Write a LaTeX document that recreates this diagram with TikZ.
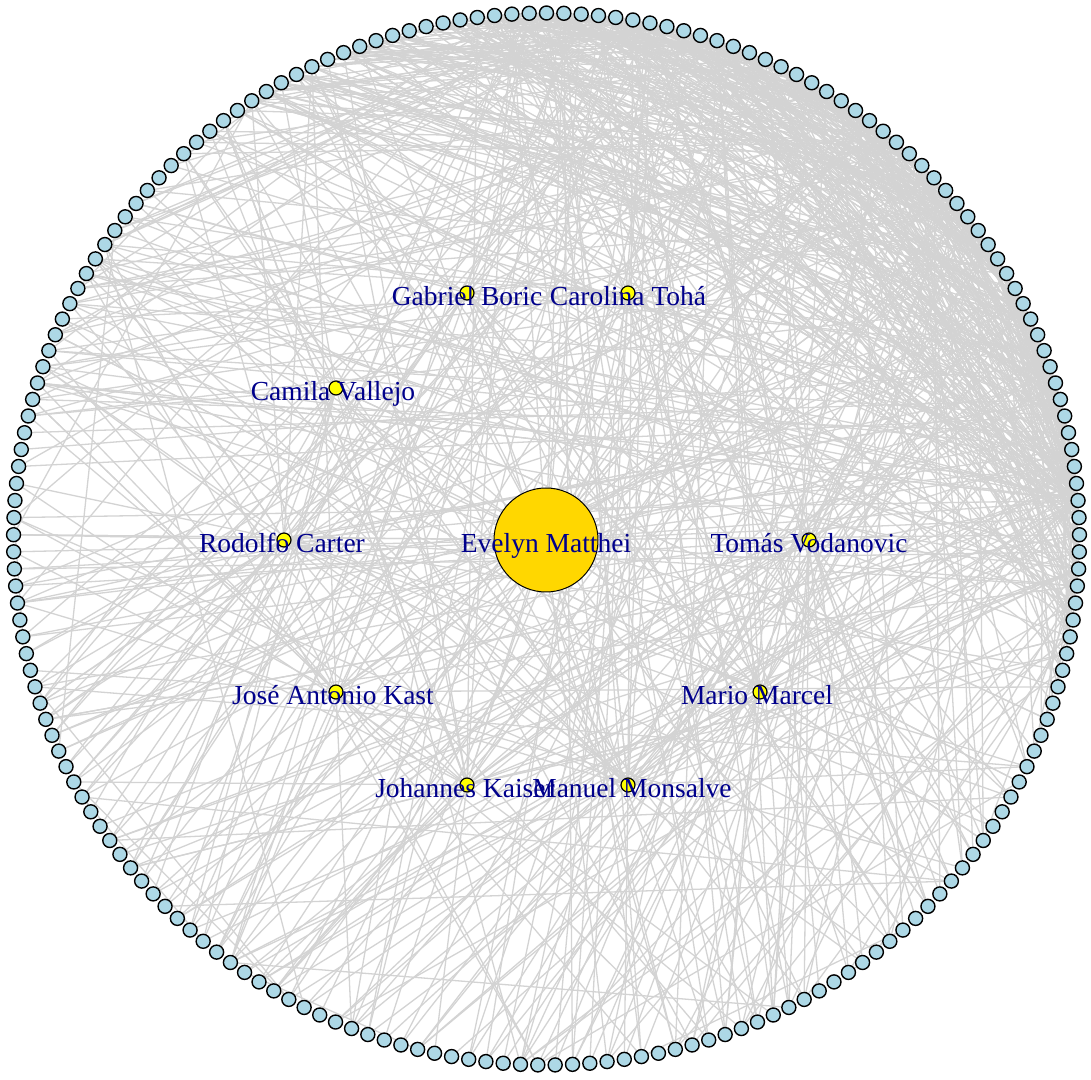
\documentclass[tikz,border=0pt]{standalone}
\usepackage{fontspec}
\setmainfont{Liberation Serif}
\usetikzlibrary{backgrounds}
\definecolor{ringblue}{HTML}{ADD8E6}
\definecolor{hubgold}{HTML}{FFD700}
\definecolor{hubyellow}{HTML}{FFFF00}
\definecolor{tiegray}{HTML}{D3D3D3}
\definecolor{namecol}{HTML}{00008B}

\begin{document}
\begin{tikzpicture}[x=1pt,y=1pt,
  member/.style={circle, draw=black, line width=1.4pt, fill=ringblue, minimum size=14pt, inner sep=0pt},
  hub/.style={circle, draw=black, line width=1.2pt, fill=hubyellow, minimum size=14pt, inner sep=0pt},
  bighub/.style={circle, draw=black, line width=1pt, fill=hubgold, minimum size=104pt, inner sep=0pt},
  hubname/.style={text=namecol, font=\fontsize{27.5}{30}\selectfont, inner sep=0pt, anchor=base},
  tie/.style={draw=tiegray, line width=1.3pt}]
\useasboundingbox (0,0) rectangle (1091,1079);

% Outer ring of members
\foreach \i in {1,...,193}{
  \pgfmathsetmacro\ang{-90+(\i-0.5)*1.865285}
  \node[member] (m\i) at ({546.5+533*cos(\ang)}, {540+526*sin(\ang)}) {};
}

% Hubs
\node[bighub] (matthei) at (546,539) {};
\node[hub] (boric) at (467,786) {};
\node[hub] (toha) at (628,786) {};
\node[hub] (vallejo) at (336,691) {};
\node[hub] (carter) at (284,539) {};
\node[hub] (vodanovic) at (809,539) {};
\node[hub] (kast) at (336,387) {};
\node[hub] (marcel) at (760,387) {};
\node[hub] (kaiser) at (467,294) {};
\node[hub] (monsalve) at (628,294) {};

% Names on top of the hubs
\node[hubname] (mattheiname) at ([yshift=-12.5pt]matthei.center) {Evelyn Matthei};
\node[hubname] (boricname) at ([yshift=-12.5pt]boric.center) {Gabriel Boric};
\node[hubname] (tohaname) at ([yshift=-12.5pt]toha.center) {Carolina Tohá};
\node[hubname] (vallejoname) at ([xshift=-3pt,yshift=-12.5pt]vallejo.center) {Camila Vallejo};
\node[hubname] (cartername) at ([xshift=-2pt,yshift=-12.5pt]carter.center) {Rodolfo Carter};
\node[hubname] (vodanovicname) at ([yshift=-12.5pt]vodanovic.center) {Tomás Vodanovic};
\node[hubname] (kastname) at ([xshift=-3pt,yshift=-12.5pt]kast.center) {José Antonio Kast};
\node[hubname] (marcelname) at ([xshift=-3pt,yshift=-12.5pt]marcel.center) {Mario Marcel};
\node[hubname] (kaisername) at ([xshift=-2pt,yshift=-12.5pt]kaiser.center) {Johannes Kaiser};
\node[hubname] (monsalvename) at ([xshift=4pt,yshift=-12.5pt]monsalve.center) {Manuel Monsalve};

% Ties, behind everything
\begin{pgfonlayer}{background}
\pgfmathsetseed{11}
% dense block in the upper right
\foreach \k in {1,...,340}{
  \pgfmathrandominteger{\a}{42}{100}
  \pgfmathrandominteger{\d}{1}{192}
  \pgfmathtruncatemacro\b{mod(\a-1+\d,193)+1}
  \draw[tie] (m\a) -- (m\b);
}
\foreach \k in {1,...,260}{
  \pgfmathrandominteger{\a}{50}{100}
  \pgfmathrandominteger{\b}{44}{115}
  \pgfmathtruncatemacro\b{\a==\b ? \b+3 : \b}
  \draw[tie] (m\a) -- (m\b);
}
% the rest of the ring
\foreach \k in {1,...,60}{
  \pgfmathrandominteger{\a}{1}{193}
  \pgfmathrandominteger{\d}{1}{192}
  \pgfmathtruncatemacro\b{mod(\a-1+\d,193)+1}
  \draw[tie] (m\a) -- (m\b);
}
% one busy member on the right
\foreach \k in {1,...,40}{
  \pgfmathrandominteger{\b}{60}{193}
  \draw[tie] (m51) -- (m\b);
}
% hubs to members
\foreach \h/\n in {matthei/48, boric/24, toha/24, vallejo/22, carter/22, vodanovic/24, kast/22, marcel/22, kaiser/26, monsalve/26}
  \foreach \k in {1,...,\n}{
    \pgfmathrandominteger{\b}{1}{193}
    \draw[tie] (\h) -- (m\b);
  }
\end{pgfonlayer}
\end{tikzpicture}
\end{document}
